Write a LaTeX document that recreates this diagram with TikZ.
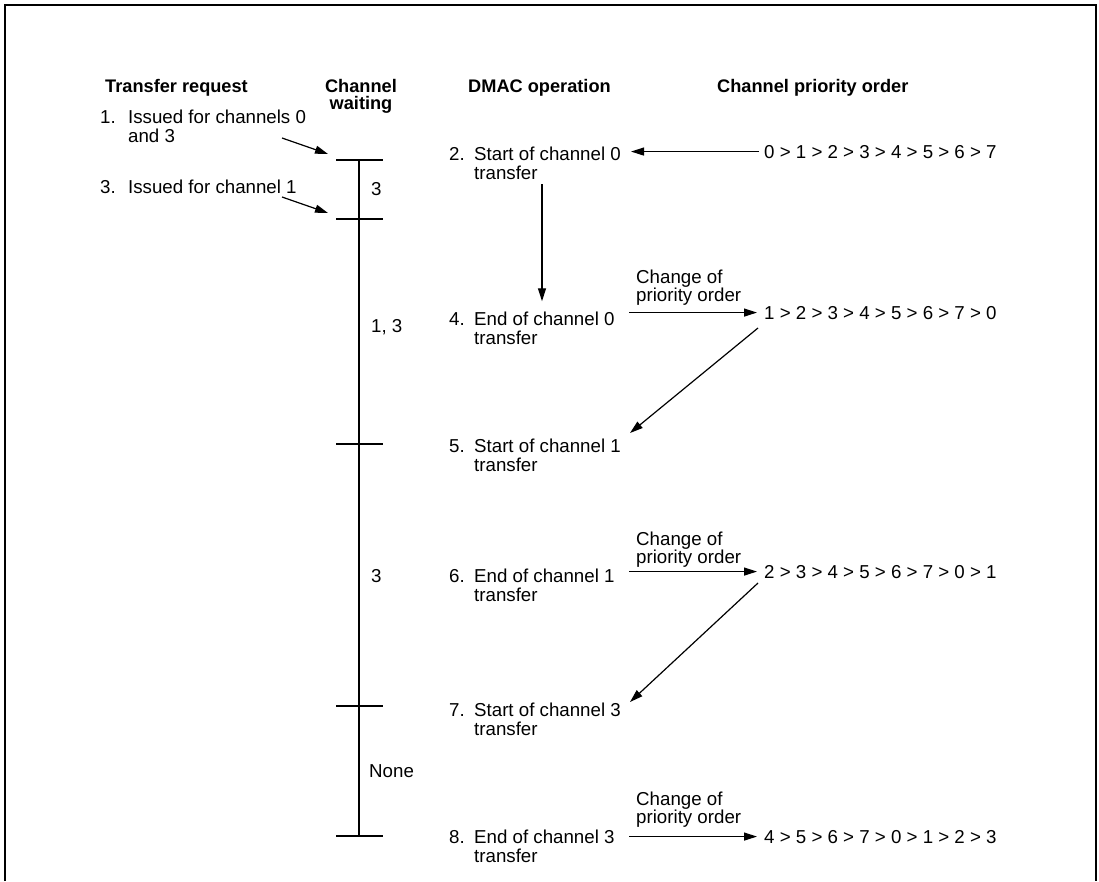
\documentclass[tikz,border=0pt]{standalone}
\usepackage{fontspec}
\setmainfont{Liberation Sans}
\usetikzlibrary{arrows.meta,calc}
\begin{document}
\begin{tikzpicture}[x=1pt,y=-1pt,
  txt/.style={inner sep=0pt, anchor=base west, align=left, font=\fontsize{18.7}{19}\selectfont},
  hdr/.style={inner sep=0pt, anchor=base west, align=left, font=\fontsize{18.2}{17}\selectfont\bfseries},
  lbl/.style={inner sep=0pt, anchor=base west, align=left, font=\fontsize{18.7}{18}\selectfont},
  ln/.style={line width=1.2pt},
  arr/.style={line width=1.2pt, -{Triangle[length=13pt,width=8pt]}},
  frame/.style={line width=2pt}
]
\useasboundingbox (0,0) rectangle (1099,881);
\newcommand{\numA}[1]{\makebox[28pt][l]{#1}}
\newcommand{\numB}[1]{\makebox[25pt][l]{#1}}
% frame (open at the bottom)
\draw[frame] (5,881) -- (5,5) -- (1096,5) -- (1096,881);

% headers
\node[hdr] (hTR) at (105,92) {Transfer request};
\node[hdr, anchor=base, align=center] (hCW) at (361,109) {Channel\\waiting};
\node[hdr] (hDM) at (468,92) {DMAC operation};
\node[hdr] (hCP) at (717,92) {Channel priority order};

% transfer requests (base = last line)
\node[txt] (r1) at (100,142) {\numA{1.}Issued for channels 0\\\hspace*{28pt}and 3};
\node[txt] (r3) at (100,193) {\numA{3.}Issued for channel 1};

% timeline
\coordinate (tk1) at (359,160);
\coordinate (tk2) at (359,219);
\coordinate (tk3) at (359,444);
\coordinate (tk4) at (359,706);
\coordinate (tk5) at (359,836);
\draw[ln] (tk1) -- (tk5);
\foreach \t in {tk1,tk2,tk3,tk4,tk5}
  \draw[ln] ($(\t)+(-23,0)$) -- ($(\t)+(24,0)$);

\node[txt] (w1) at (371,195) {3};
\node[txt] (w2) at (371,332) {1, 3};
\node[txt] (w3) at (371,582) {3};
\node[txt] (w4) at (369,777) {None};

\coordinate (q1) at (282,138);
\coordinate (q3) at (282,197);
\draw[arr] (q1) -- ($(tk1)+(-31,-6)$);
\draw[arr] (q3) -- ($(tk2)+(-31,-6)$);

% DMAC operations (base = last line)
\node[txt] (d2) at (449,179) {\numB{2.}Start of channel 0\\\hspace*{25pt}transfer};
\node[txt] (d4) at (449,344) {\numB{4.}End of channel 0\\\hspace*{25pt}transfer};
\node[txt] (d5) at (449,471) {\numB{5.}Start of channel 1\\\hspace*{25pt}transfer};
\node[txt] (d6) at (449,601) {\numB{6.}End of channel 1\\\hspace*{25pt}transfer};
\node[txt] (d7) at (449,735) {\numB{7.}Start of channel 3\\\hspace*{25pt}transfer};
\node[txt] (d8) at (449,862) {\numB{8.}End of channel 3\\\hspace*{25pt}transfer};

% priority orders
\node[txt] (p0) at (764,158) {0 > 1 > 2 > 3 > 4 > 5 > 6 > 7};
\node[txt] (p1) at (764,319) {1 > 2 > 3 > 4 > 5 > 6 > 7 > 0};
\node[txt] (p2) at (764,578) {2 > 3 > 4 > 5 > 6 > 7 > 0 > 1};
\node[txt] (p3) at (764,843) {4 > 5 > 6 > 7 > 0 > 1 > 2 > 3};

% arrow 0 -> start of channel 0
\draw[arr, shorten <=5pt] (p0.west) -- ($(p0.west)+(-133,0)$);
% start -> end of channel 0
\coordinate (v2) at (542,184);
\draw[arr] (v2) -- ($(v2 |- d4.north)+(0,-10)$);

% change of priority arrows
\coordinate (a4) at ($(p1.west)+(-135,0)$);
\coordinate (a6) at ($(p2.west)+(-135,0)$);
\coordinate (a8) at ($(p3.west)+(-135,0)$);
\draw[arr, shorten >=7pt] (a4) -- (p1.west);
\draw[arr, shorten >=7pt] (a6) -- (p2.west);
\draw[arr, shorten >=7pt] (a8) -- (p3.west);
\node[lbl] (l4) at ($(p1.base west)+(-128,-18)$) {Change of\\priority order};
\node[lbl] (l6) at ($(p2.base west)+(-128,-15)$) {Change of\\priority order};
\node[lbl] (l8) at ($(p3.base west)+(-128,-20)$) {Change of\\priority order};

% diagonals
\draw[arr] ($(p1.base west)+(-6,9)$) -- ($(d5.base west)+(181,-38)$);
\draw[arr] ($(p2.base west)+(-6,5)$) -- ($(d7.base west)+(181,-33)$);
\end{tikzpicture}
\end{document}
